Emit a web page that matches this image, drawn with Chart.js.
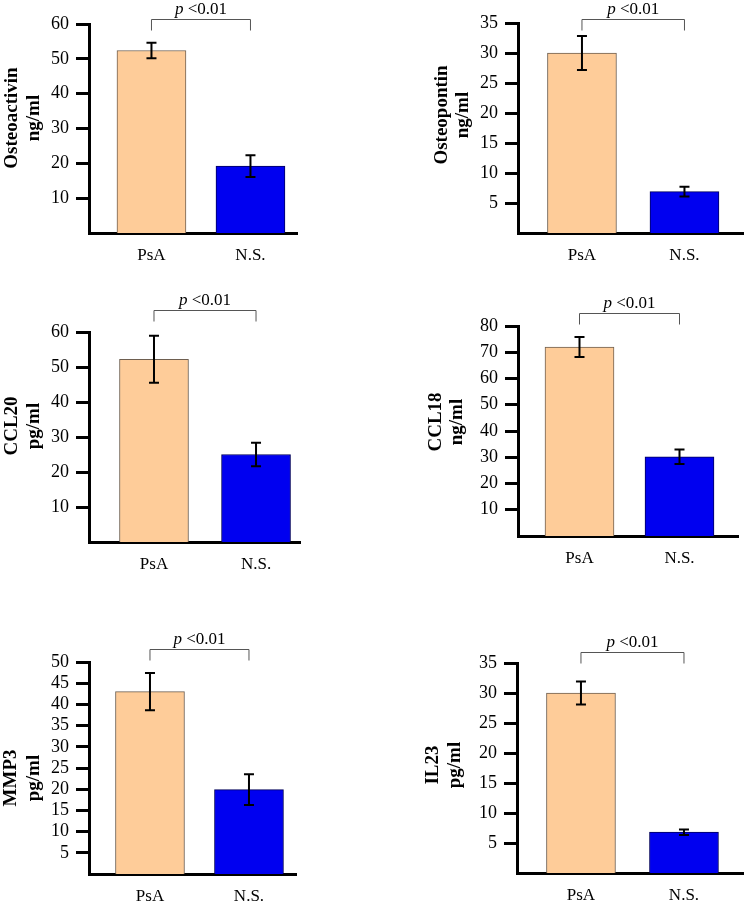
<!DOCTYPE html>
<html><head><meta charset="utf-8">
<script src="https://cdn.jsdelivr.net/npm/chart.js@4.4.1/dist/chart.umd.min.js"></script>
<style>
html,body{margin:0;padding:0;background:#fff;}
#wrap{position:relative;width:747px;height:906px;overflow:hidden;background:#fff;}
canvas{position:absolute;}
</style></head><body><div id="wrap"></div>
<script>
// ---- data ----
const categories = ['PsA', 'N.S.'];
const osteoactivinMeans = [52.4, 19.2];
const osteoactivinErrors = [2.2, 3.1];
const osteopontinMeans = [30.0, 6.9];
const osteopontinErrors = [2.85, 0.8];
const ccl20Means = [52.2, 25.0];
const ccl20Errors = [6.7, 3.35];
const ccl18Means = [72.0, 30.2];
const ccl18Errors = [3.8, 2.8];
const mmp3Means = [43.0, 19.9];
const mmp3Errors = [4.4, 3.6];
const il23Means = [30.0, 6.8];
const il23Errors = [1.9, 0.45];
const yTitles = [['Osteoactivin','ng/ml'], ['Osteopontin','ng/ml'], ['CCL20','pg/ml'], ['CCL18','ng/ml'], ['MMP3','pg/ml'], ['IL23','pg/ml']];
const yMaxima = [60, 35, 60, 80, 50, 35];
const yStepSizes = [10, 5, 10, 10, 5, 5];
const pItalic = 'p';
const pValueText = ' <0.01';

// ---- layout (positions / styles) ----
const SERIF = '"Liberation Serif","Times New Roman",serif';
const YW = 60, XH = 32;
const layouts = [
  {box:{cx:0,cy:0,cw:373,ch:280}, area:{left:89,top:24,right:297,bottom:233}, xRange:[-0.631,1.470], tdx:[-77,-55], ty:118, bTop:19},
  {box:{cx:373,cy:0,cw:374,ch:280}, area:{left:518,top:23,right:743,bottom:233}, xRange:[-0.624,1.571], tdx:[-76,-55], ty:115, bTop:19},
  {box:{cx:0,cy:280,cw:373,ch:320}, area:{left:89,top:332,right:300,bottom:542}, xRange:[-0.637,1.431], tdx:[-77,-55], ty:426, bTop:310},
  {box:{cx:373,cy:280,cw:374,ch:320}, area:{left:518,top:326,right:738,bottom:536}, xRange:[-0.615,1.585], tdx:[-82,-61], ty:422, bTop:313},
  {box:{cx:0,cy:600,cw:373,ch:306}, area:{left:89,top:662,right:296,bottom:874}, xRange:[-0.616,1.475], tdx:[-78,-55], ty:778, bTop:649},
  {box:{cx:373,cy:600,cw:374,ch:306}, area:{left:517,top:663,right:743,bottom:873}, xRange:[-0.621,1.573], tdx:[-84,-62], ty:765, bTop:652}
];
const seriesMeans = [osteoactivinMeans, osteopontinMeans, ccl20Means, ccl18Means, mmp3Means, il23Means];
const seriesErrors = [osteoactivinErrors, osteopontinErrors, ccl20Errors, ccl18Errors, mmp3Errors, il23Errors];

const annot = {
  id: 'annot',
  afterDatasetsDraw(chart, args, o) {
    const ctx = chart.ctx, ys = chart.scales.y;
    const meta = chart.getDatasetMeta(0);
    const L = o.layout;
    ctx.save();
    // error bars
    ctx.strokeStyle = '#000'; ctx.lineWidth = 2;
    meta.data.forEach((bar, i) => {
      const m = o.means[i], e = o.errors[i];
      const yT = ys.getPixelForValue(m + e), yB = ys.getPixelForValue(m - e);
      ctx.beginPath();
      ctx.moveTo(bar.x, yT); ctx.lineTo(bar.x, yB);
      ctx.moveTo(bar.x - 5, yT); ctx.lineTo(bar.x + 5, yT);
      ctx.moveTo(bar.x - 5, yB); ctx.lineTo(bar.x + 5, yB);
      ctx.stroke();
    });
    // bracket
    const x0 = meta.data[0].x, x1 = meta.data[1].x;
    const bt = L.bTop - L.box.cy + 0.5;
    ctx.strokeStyle = '#555'; ctx.lineWidth = 1;
    ctx.beginPath();
    ctx.moveTo(x0, bt + 11); ctx.lineTo(x0, bt); ctx.lineTo(x1, bt); ctx.lineTo(x1, bt + 11);
    ctx.stroke();
    // p text
    ctx.fillStyle = '#000';
    ctx.textBaseline = 'middle'; ctx.textAlign = 'left';
    const fi = 'italic 17px ' + SERIF, fr = '17px ' + SERIF;
    ctx.font = fi; const w1 = ctx.measureText(pItalic).width;
    ctx.font = fr; const w2 = ctx.measureText(pValueText).width;
    const sx = (x0 + x1) / 2 - (w1 + w2) / 2, sy = bt - 10;
    ctx.font = fi; ctx.fillText(pItalic, sx, sy);
    ctx.font = fr; ctx.fillText(pValueText, sx + w1, sy);
    // y titles
    ctx.font = 'bold 19px ' + SERIF; ctx.textAlign = 'center';
    o.title.forEach((t, k) => {
      ctx.save();
      ctx.translate(chart.chartArea.left + L.tdx[k], L.ty - L.box.cy);
      ctx.rotate(-Math.PI / 2);
      ctx.fillText(t, 0, 0);
      ctx.restore();
    });
    ctx.restore();
  }
};

const wrap = document.getElementById('wrap');
layouts.forEach((L, idx) => {
  const cv = document.createElement('canvas');
  cv.width = L.box.cw; cv.height = L.box.ch;
  cv.style.left = L.box.cx + 'px'; cv.style.top = L.box.cy + 'px';
  cv.style.width = L.box.cw + 'px'; cv.style.height = L.box.ch + 'px';
  wrap.appendChild(cv);
  const means = seriesMeans[idx], errors = seriesErrors[idx];
  new Chart(cv, {
    type: 'bar',
    data: {
      datasets: [{
        data: means.map((v, i) => ({x: i, y: v})),
        backgroundColor: ['#FECC99', '#0000F0'],
        borderColor: ['#6E5F50', '#00005A'],
        borderWidth: 1,
        barThickness: 69
      }]
    },
    options: {
      responsive: false, animation: false, devicePixelRatio: 1,
      layout: { padding: {
        left: L.area.left - L.box.cx - YW,
        top: L.area.top - L.box.cy,
        right: L.box.cx + L.box.cw - L.area.right,
        bottom: L.box.cy + L.box.ch - L.area.bottom - XH } },
      plugins: {
        legend: {display: false}, tooltip: {enabled: false},
        annot: {means, errors, title: yTitles[idx], layout: L}
      },
      scales: {
        x: {
          type: 'linear', offset: false, min: L.xRange[0], max: L.xRange[1],
          afterBuildTicks: s => { s.ticks = categories.map((c, i) => ({value: i})); },
          afterFit: s => { s.height = XH; },
          ticks: { callback: v => categories[v] ?? '', autoSkip: false, maxRotation: 0, padding: 12,
                   color: '#000', font: {family: SERIF, size: 17} },
          grid: {display: false, drawTicks: false, offset: false},
          border: {display: true, color: '#000', width: 3}
        },
        y: {
          min: 0, max: yMaxima[idx],
          afterBuildTicks: s => { s.ticks = s.ticks.filter(t => t.value !== 0); },
          afterFit: s => { s.width = YW; },
          ticks: { stepSize: yStepSizes[idx], autoSkip: false, padding: 7, color: '#000', font: {family: SERIF, size: 18} },
          grid: {display: true, drawOnChartArea: false, drawTicks: true, tickLength: 13, tickWidth: 3, tickColor: '#000'},
          border: {display: true, color: '#000', width: 3}
        }
      }
    },
    plugins: [annot]
  });
});
</script></body></html>
